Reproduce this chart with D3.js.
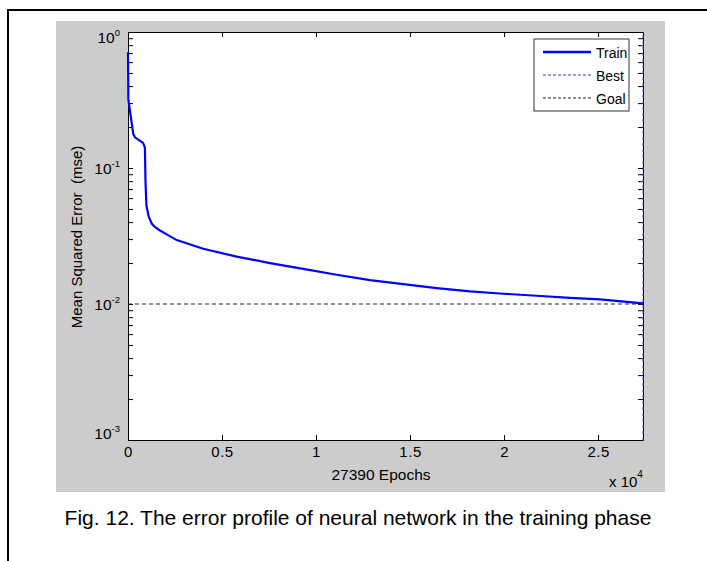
<!DOCTYPE html>
<html lang="en">
<head>
<meta charset="UTF-8">
<title>Training error</title>
<script src="https://cdn.jsdelivr.net/npm/d3@7"></script>
<style>
	html,body{margin:0;padding:0;background:#fff;}
	svg{display:block;}
	text{font-family:"Liberation Sans",Arial,Helvetica,sans-serif;fill:#000;}
	.tick text{font-size:15px;letter-spacing:0.5px;}
	.domain{stroke:#000;}
	.tick line{stroke:#000;}
</style>
</head>
<body>
<svg id="svg" width="707" height="561"></svg>
<script>
// data
var trainEpochs = [0, 20, 110, 280, 370, 800, 900, 930, 980, 1100, 1260, 1440, 1700, 2060, 2590, 4000, 5780, 7550, 9320, 11100, 12870, 14640, 16420, 18190, 19960, 21730, 23510, 25100, 27390];
var trainMse = [0.71, 0.32, 0.26, 0.178, 0.168, 0.153, 0.141, 0.08, 0.053, 0.044, 0.039, 0.0367, 0.0347, 0.0325, 0.0295, 0.0255, 0.0223, 0.0200, 0.0181, 0.0164, 0.0150, 0.0140, 0.0131, 0.0124, 0.0119, 0.0115, 0.0111, 0.0108, 0.0101];
var totalEpochs = 27390;
var goal = 0.01;
var xTicks = [0, 5000, 10000, 15000, 20000, 25000];
var xTickLabels = ["0", "0.5", "1", "1.5", "2", "2.5"];
var yDecades = [-3, -2, -1, 0];
var legendNames = ["Train", "Best", "Goal"];

var svg = d3.select("#svg");

// page frame
svg.append("line").attr("x1", 7).attr("x2", 707).attr("y1", 10).attr("y2", 10)
	.attr("stroke", "#000").attr("stroke-width", 2);
svg.append("line").attr("x1", 8).attr("x2", 8).attr("y1", 9).attr("y2", 561)
	.attr("stroke", "#000").attr("stroke-width", 2);

// figure background
svg.append("rect").attr("x", 56).attr("y", 21).attr("width", 609).attr("height", 471)
	.attr("fill", "#cccccc");

var pl = 128, pr = 643, pt = 32, pb = 440;
var x = d3.scaleLinear().domain([0, totalEpochs]).range([pl, pr]);
var y = d3.scaleLog().domain([1e-3, 1]).range([pb, pt]);

svg.append("rect").attr("x", pl).attr("y", pt).attr("width", pr - pl).attr("height", pb - pt)
	.attr("fill", "#fff");

// log ticks incl. minors
var yTickVals = [];
yDecades.forEach(function(d){
	for (var k = 1; k < 10; k++){
		var v = k * Math.pow(10, d);
		if (v <= 1) yTickVals.push(v);
	}
});

var fmtX = function(d){ return xTickLabels[xTicks.indexOf(d)]; };

svg.append("g").attr("transform", "translate(0," + pb + ")")
	.call(d3.axisBottom(x).tickValues(xTicks).tickFormat(fmtX).tickSize(-5).tickSizeOuter(0).tickPadding(6));
svg.append("g").attr("transform", "translate(0," + pt + ")")
	.call(d3.axisTop(x).tickValues(xTicks).tickFormat("").tickSize(-5).tickSizeOuter(0));
svg.append("g").attr("transform", "translate(" + pl + ",0)")
	.call(d3.axisLeft(y).tickValues(yTickVals).tickFormat("").tickSize(-5).tickSizeOuter(0));
svg.append("g").attr("transform", "translate(" + pr + ",0)")
	.call(d3.axisRight(y).tickValues(yTickVals).tickFormat("").tickSize(-5).tickSizeOuter(0));
svg.selectAll(".domain").attr("stroke", "#000");

// y labels 10^n, end labels kept inside like matlab
var yShift = {"-3": -1, "-2": 5.5, "-1": 5.5, "0": 11};
var yl = svg.append("g");
yDecades.forEach(function(d){
	var t = yl.append("text").attr("x", 120).attr("y", y(Math.pow(10, d)) + yShift[d])
		.attr("text-anchor", "end").attr("font-size", "15.5px");
	t.append("tspan").text("10");
	t.append("tspan").attr("dy", -7).attr("font-size", "9.5px").text(d);
});

// x label and multiplier
svg.append("text").attr("x", 381).attr("y", 480).attr("text-anchor", "middle")
	.attr("font-size", "15.5px").text("27390 Epochs");
var mult = svg.append("text").attr("x", 609).attr("y", 487).attr("font-size", "15px");
mult.append("tspan").text("x 10");
mult.append("tspan").attr("dy", -9).attr("font-size", "10px").text("4");
svg.append("text").attr("transform", "translate(82," + ((pt + pb) / 2 + 1) + ") rotate(-90)")
	.attr("text-anchor", "middle").attr("font-size", "15px").style("white-space", "pre")
	.text("Mean Squared Error  (mse)");

// goal line
svg.append("line").attr("x1", pl).attr("x2", pr).attr("y1", y(goal)).attr("y2", y(goal))
	.attr("stroke", "#222").attr("stroke-dasharray", "4,3");
// best epoch vertical
svg.append("line").attr("x1", x(totalEpochs)).attr("x2", x(totalEpochs)).attr("y1", pb).attr("y2", pt)
	.attr("stroke", "#4444ff").attr("stroke-dasharray", "3,3");

// train curve
var trainData = trainEpochs.map(function(e, i){ return [e, trainMse[i]]; });
svg.append("path").datum(trainData)
	.attr("fill", "none").attr("stroke", "#0000ff").attr("stroke-width", 2.2)
	.attr("d", d3.line().x(function(d){ return x(d[0]); }).y(function(d){ return y(d[1]); }));

// legend
var lg = svg.append("g").attr("transform", "translate(534,39)");
lg.append("rect").attr("width", 95).attr("height", 72).attr("fill", "#fff").attr("stroke", "#333");
var legStyles = [
	{stroke: "#0000ff", w: 2.5, dash: null},
	{stroke: "#3333ff", w: 1, dash: "3,2"},
	{stroke: "#222", w: 1, dash: "3,2"}
];
legendNames.forEach(function(n, i){
	var yy = 13 + i * 23;
	lg.append("line").attr("x1", 9).attr("x2", 57).attr("y1", yy).attr("y2", yy)
		.attr("stroke", legStyles[i].stroke).attr("stroke-width", legStyles[i].w)
		.attr("stroke-dasharray", legStyles[i].dash);
	lg.append("text").attr("x", 62).attr("y", yy + 5.5)
		.attr("font-size", "14px").text(n);
});

// caption
svg.append("text").attr("x", 358).attr("y", 525).attr("text-anchor", "middle")
	.attr("font-size", "21px")
	.text("Fig. 12. The error profile of neural network in the training phase");
</script>
</body>
</html>
